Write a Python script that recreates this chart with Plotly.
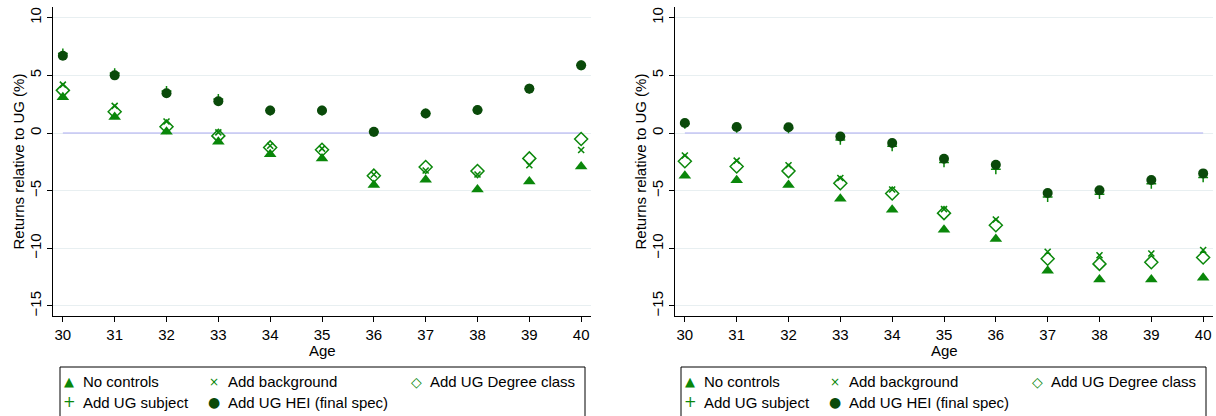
import plotly.graph_objects as go

ages = list(range(30, 41))
series_names = ["No controls", "Add background", "Add UG Degree class",
                "Add UG subject", "Add UG HEI (final spec)"]

# Left panel
no_controls_L = [3.1, 1.4, 0.1, -0.75, -1.85, -2.2, -4.5, -4.05, -4.9, -4.2, -2.9]
background_L = [4.2, 2.35, 1.0, 0.05, -1.1, -1.35, -3.6, -3.25, -3.6, -2.8, -1.47]
degree_L = [3.7, 1.85, 0.55, -0.25, -1.25, -1.45, -3.7, -2.95, -3.3, -2.2, -0.52]
subject_L = [6.9, 5.2, 3.65, 2.95, 1.95, 1.95, 0.1, 1.7, 2.0, 3.85, 5.87]
hei_L = [6.7, 5.0, 3.45, 2.75, 1.95, 1.95, 0.1, 1.7, 2.0, 3.85, 5.87]

# Right panel
no_controls_R = [-3.7, -4.1, -4.5, -5.7, -6.65, -8.4, -9.2, -11.95, -12.7, -12.7, -12.55]
background_R = [-1.95, -2.4, -2.8, -3.9, -4.9, -6.6, -7.5, -10.3, -10.6, -10.45, -10.15]
degree_R = [-2.45, -2.9, -3.3, -4.35, -5.25, -6.95, -8.0, -10.9, -11.35, -11.2, -10.8]
subject_R = [0.8, 0.45, 0.4, -0.6, -1.15, -2.55, -3.15, -5.55, -5.3, -4.4, -3.85]
hei_R = [0.87, 0.52, 0.5, -0.3, -0.87, -2.23, -2.75, -5.2, -4.97, -4.07, -3.5]

y_ticks = [-15, -10, -5, 0, 5, 10]
x_title = "Age"
y_title = "Returns relative to UG (%)"

W, H = 1216, 416
GREEN = "#0A870A"
DKGREEN = "#0A4A0A"
REF = "#ABABF2"
FONT = "Liberation Sans, Arial, sans-serif"

styles = [
    dict(symbol="triangle-up", size=11, color=GREEN),
    dict(symbol="x-thin", size=6, color=GREEN, line=dict(color=GREEN, width=1.6)),
    dict(symbol="diamond-open", size=10, color=GREEN, line=dict(color=GREEN, width=1.5)),
    dict(symbol="cross-thin", size=7, color=GREEN, line=dict(color=GREEN, width=1.5)),
    dict(symbol="circle", size=10, color=DKGREEN),
]

fig = go.Figure()

panels = [
    ("x", "y", [no_controls_L, background_L, degree_L, subject_L, hei_L]),
    ("x2", "y2", [no_controls_R, background_R, degree_R, subject_R, hei_R]),
]
for xa, ya, data in panels:
    fig.add_trace(go.Scatter(x=[ages[0], ages[-1]], y=[0, 0], mode="lines",
                             line=dict(color=REF, width=1.2), xaxis=xa, yaxis=ya,
                             showlegend=False, hoverinfo="skip"))
    for name, vals, st in zip(series_names, data, styles):
        fig.add_trace(go.Scatter(x=ages, y=vals, mode="markers", name=name,
                                 marker=st, xaxis=xa, yaxis=ya, showlegend=False))

def px_x(p):
    return p / W

def px_y(p):
    return 1 - p / H

xdomL = [px_x(53), px_x(591)]
xdomR = [px_x(675), px_x(1213)]
ydom = [px_y(316), px_y(7)]

axis_common = dict(showline=True, linecolor="black", linewidth=1, ticks="outside",
                   ticklen=5, tickwidth=1, tickcolor="black", mirror=False,
                   tickfont=dict(family=FONT, size=15, color="black"), zeroline=False)

xcommon = dict(axis_common, range=[29.81, 40.19], tickmode="array", tickvals=ages,
               showgrid=False)
ycommon = dict(axis_common, range=[-15.87, 10.93], tickmode="array", tickvals=y_ticks,
               tickangle=-90, showgrid=True, gridcolor="#E8EFF1", gridwidth=1)

fig.update_layout(
    width=W, height=H,
    margin=dict(l=0, r=0, t=0, b=0),
    paper_bgcolor="white", plot_bgcolor="white",
    showlegend=False,
    font=dict(family=FONT, size=15, color="black"),
    xaxis=dict(xcommon, domain=xdomL, anchor="y"),
    yaxis=dict(ycommon, domain=ydom, anchor="x"),
    xaxis2=dict(xcommon, domain=xdomR, anchor="y2"),
    yaxis2=dict(ycommon, domain=ydom, anchor="x2"),
)

shapes = []
annotations = []

# Axis titles
for ax_left, ax_right in [(53, 591), (675, 1213)]:
    annotations.append(dict(xref="paper", yref="paper", x=px_x((ax_left + ax_right) / 2),
                            y=px_y(350), text=x_title, showarrow=False,
                            xanchor="center", yanchor="middle", borderpad=0,
                            font=dict(family=FONT, size=15, color="black")))
    annotations.append(dict(xref="paper", yref="paper", x=px_x(ax_left - 35),
                            y=px_y(161.5), text=y_title, showarrow=False, textangle=-90,
                            xanchor="center", yanchor="middle",
                            font=dict(family=FONT, size=15, color="black")))

# Manual legends (Stata-style boxes below each panel)
legend_symbols = ["\u25B2", "\u00D7", "\u25C7", "+", "\u25CF"]
legend_colors = [GREEN, GREEN, GREEN, GREEN, DKGREEN]
legend_sizes = [13, 12, 14, 15, 14]
col_off = [0, 145, 347]  # marker offsets from first marker
slots = [(0, 0), (1, 0), (2, 0), (0, 1), (1, 1)]
row_y = [381.5, 402]

for box_left in [60, 681]:
    shapes.append(dict(type="rect", xref="paper", yref="paper",
                       x0=px_x(box_left), x1=px_x(box_left + 525),
                       y0=px_y(430), y1=px_y(367),
                       line=dict(color="black", width=1), fillcolor="rgba(0,0,0,0)"))
    for name, sym, colr, sz, (c, r) in zip(series_names, legend_symbols, legend_colors,
                                           legend_sizes, slots):
        mx = box_left + 9 + col_off[c]
        annotations.append(dict(xref="paper", yref="paper", x=px_x(mx), y=px_y(row_y[r]),
                                text=sym, showarrow=False, xanchor="center", yanchor="middle",
                                font=dict(family="DejaVu Sans", size=sz, color=colr)))
        annotations.append(dict(xref="paper", yref="paper", x=px_x(mx + 12), y=px_y(row_y[r]),
                                text=name, showarrow=False, xanchor="left", yanchor="middle",
                                font=dict(family=FONT, size=15, color="black")))

fig.update_layout(shapes=shapes, annotations=annotations)

fig.write_html("out.html", config={"displayModeBar": False},
               post_script="document.body.style.margin='0';document.body.style.overflow='hidden';")
